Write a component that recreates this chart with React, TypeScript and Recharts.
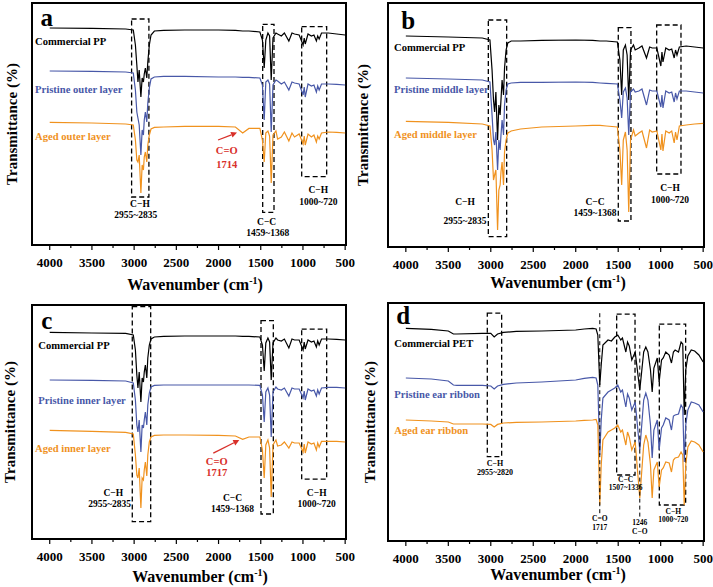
import React from "react";
import { LineChart, Line, XAxis, YAxis, ReferenceArea, ReferenceLine, ReferenceDot } from "recharts";

const SERIF = '"Liberation Serif", "Times New Roman", serif';
const INK = "#000000";
const BLUE = "#4858a8";
const ORANGE = "#f0921e";
const RED = "#d8302a";

const X_DOMAIN: [number, number] = [490, 4210];
const X_TICKS = [4000, 3750, 3500, 3250, 3000, 2750, 2500, 2250, 2000, 1750, 1500, 1250, 1000, 750, 500];

// wavenumber grid for the three PP panels (cm-1)
const PP_WN = [4000, 3500, 3100, 3010, 2985, 2968, 2955, 2940, 2920, 2905, 2890, 2880, 2867, 2850, 2838, 2820, 2800, 2760, 2650, 2400, 2000, 1800, 1714, 1640, 1510, 1480, 1459, 1440, 1415, 1395, 1376, 1355, 1320, 1300, 1256, 1220, 1167, 1130, 1100, 1045, 998, 985, 973, 940, 900, 870, 841, 825, 808, 780, 700, 600, 500];

// panel a - outer layer
const A_COMMERCIAL = [108.5, 108.3, 108, 107.5, 100, 90, 81.5, 87.5, 74, 83.5, 81.5, 85.5, 88.5, 83.5, 91.5, 100, 105, 107, 107.3, 107.5, 107.5, 107.3, 107, 107, 106.5, 102.5, 88.5, 102.5, 106, 104.5, 82.5, 103.5, 106, 105.5, 104.5, 106, 102, 106, 105.5, 105, 100, 103.5, 100.5, 105.5, 104.5, 105, 102, 104.5, 103, 106, 106, 105.5, 105];
const A_PRISTINE = [87, 86.8, 86.5, 86, 77.5, 66.5, 63.5, 60, 45, 57.5, 55, 62.5, 66.5, 61.5, 71, 78.5, 83, 84, 84.3, 84.3, 84, 84, 83.8, 83.8, 83.5, 80, 62.5, 81.5, 82.5, 80.5, 56.5, 80, 82.5, 82, 80.5, 81.5, 77.5, 81.5, 81, 80.5, 75, 79, 74, 80.5, 79.5, 80, 76.5, 79.5, 77.5, 80.5, 80.5, 80.3, 80];
const A_AGED = [61.3, 61, 60.5, 60, 52.5, 42.5, 41.5, 45, 26, 40, 37.5, 44, 46.5, 41.5, 50, 55, 58, 58.8, 59, 59.3, 59.3, 59, 56, 58.3, 58.3, 52.5, 41.5, 56, 57, 54.5, 31, 55, 57, 53, 54, 56.5, 52, 56, 54, 55.5, 50.5, 54.5, 50, 55.5, 54, 55, 51.5, 54.5, 53, 56, 56.5, 56.3, 56];

// panel b - middle layer
const B_COMMERCIAL = [105.5, 105, 104.5, 103.5, 88.5, 73.5, 67.5, 77.5, 53.5, 71, 66, 73.5, 83.5, 76, 89.5, 98.5, 102, 103, 103, 103.3, 103.5, 103.3, 103, 103, 102.5, 93.5, 76, 98.5, 101, 96, 73.5, 98.5, 101, 98.5, 99.5, 100.5, 94.5, 100, 99.5, 99.5, 90.5, 97.5, 92.5, 99.5, 98.5, 99, 94.5, 98.5, 96, 100, 100.5, 100, 99.5];
const B_PRISTINE = [84.5, 84, 83.5, 82.5, 66, 53.5, 51, 57.5, 38.5, 53.5, 48.5, 56, 63.5, 56, 71, 78.5, 81.5, 82, 82.3, 82.3, 82.5, 82.3, 82, 81.8, 81.5, 73.5, 64.5, 77.5, 79.5, 74.5, 56, 77.5, 79, 77.5, 78, 79, 71, 78.5, 78, 78, 70, 76, 69.5, 78, 77, 77.5, 72.5, 77, 74, 78, 78, 77.5, 77];
const B_AGED = [62.8, 62.3, 61.5, 60.5, 48.5, 33.5, 36, 38.5, 8.5, 28.5, 31, 37.5, 42.5, 31, 47.5, 53.5, 57, 58, 59, 60, 60.5, 60.8, 60.8, 60.5, 60, 48.5, 31, 53.5, 57.5, 48.5, 17.5, 53.5, 58.5, 55.5, 57, 58, 49.5, 58.5, 57.5, 58, 48.5, 56.5, 48, 58, 57, 58, 52, 57.5, 53.5, 60.5, 61, 61.5, 61.8];

// panel c - inner layer
const C_COMMERCIAL = [103.3, 103, 102.8, 102, 94.5, 82, 75.5, 83.5, 68.5, 80.5, 78.5, 83.5, 87, 80.5, 90.5, 97, 100, 101, 101.3, 101.5, 101.5, 101.5, 101.3, 101.3, 101, 97, 84, 98, 100.5, 98.5, 79.5, 98, 100.5, 99.5, 99, 100, 95.5, 100, 99.5, 99.5, 94.5, 98.5, 95, 99.5, 98.5, 99, 96, 99, 97, 100, 100, 99.8, 99.5];
const C_PRISTINE = [79.5, 79.3, 79, 78, 69.5, 57, 53.5, 59.5, 43.5, 57, 55.5, 59.5, 63.5, 57, 67, 73, 76, 76.8, 77, 77, 77, 77, 77, 77, 76.8, 72, 58.5, 73.5, 75.5, 72, 51, 73.5, 76, 75, 74.5, 75.5, 71.5, 75.5, 75, 75, 70.5, 74, 69.5, 75, 74, 74.5, 71.5, 74.5, 72.5, 75.5, 75.8, 75.8, 75.5];
const C_AGED = [54.3, 53.8, 53.3, 52.5, 42, 32, 30.5, 35.5, 15.5, 30.5, 29.5, 34.5, 38.5, 31.5, 42, 48.5, 51, 51.8, 52, 52, 51.8, 51.5, 49.8, 51, 51, 44.5, 30.5, 47, 49.5, 45.5, 21, 47, 49.5, 46.5, 47, 48.5, 45.5, 48.5, 48, 48, 43.5, 47.5, 43, 48.5, 47.5, 48, 44.5, 48, 46, 48.8, 48.8, 48.8, 48.5];

// panel d - PET ear ribbon
const PET_WN = [4000, 3700, 3500, 3440, 3400, 3100, 3000, 2960, 2920, 2850, 2700, 2400, 2000, 1900, 1800, 1760, 1740, 1717, 1700, 1680, 1620, 1580, 1540, 1505, 1470, 1450, 1410, 1390, 1370, 1340, 1300, 1246, 1200, 1175, 1150, 1120, 1100, 1080, 1040, 1018, 990, 970, 940, 900, 873, 850, 830, 790, 760, 740, 723, 705, 680, 640, 600, 550, 500];
const D_COMMERCIAL = [106.3, 105.8, 105, 103.5, 103.5, 103.8, 103.8, 102, 103.5, 104.3, 104.8, 105, 105.5, 106, 106.3, 106, 103, 78, 88, 98, 100.5, 100, 102, 103, 100.5, 101.5, 94.5, 99.5, 97.5, 90.5, 94.5, 75.5, 94.5, 97, 94.5, 85.5, 74.5, 86.5, 91.5, 79.5, 90.5, 91.5, 94.5, 93, 89, 94.5, 95.5, 94.5, 99.5, 98.5, 63, 85.5, 92.5, 95.5, 95, 93, 89.5];
const D_PRISTINE = [81.5, 81, 80, 78, 77.8, 77.8, 77.5, 76, 77.5, 78.3, 79, 79.5, 80.5, 81.3, 81.8, 81.5, 78, 43, 60.5, 71.5, 74.5, 75.5, 76.5, 78, 74.5, 75.5, 67, 73.5, 71.5, 65.5, 69.5, 45.5, 70.5, 74, 70.5, 58, 41.5, 55.5, 60.5, 45.5, 56.5, 58, 61.5, 60.5, 55.5, 62.5, 63, 63.5, 68, 66.5, 39.5, 58, 65.5, 69.5, 69, 68, 64.5];
const D_AGED = [60.5, 60, 59.5, 58.5, 58.5, 58.5, 58.3, 57, 58.3, 59, 59.3, 59.5, 60, 60.3, 60.5, 60.8, 58, 18, 38, 50.5, 54.5, 55.5, 56.5, 58, 54.5, 55.5, 48, 54.5, 52, 45.5, 49.5, 21.5, 48, 53, 49.5, 38, 21.5, 35.5, 39.5, 27, 35.5, 36.5, 39.5, 39, 34.5, 40.5, 41.5, 42, 44.5, 43, 18, 38, 47, 50, 49.5, 48, 44.5];

type Series = { key: string; color: string; values: number[] };

function XTick(props: any) {
  const { x, y, payload } = props;
  const major = payload.value % 500 === 0;
  return (
    <g>
      <line x1={x} x2={x} y1={y} y2={y + (major ? 5 : 3)} stroke={INK} strokeWidth={1.2} />
      {major && (
        <text x={x} y={y + 17} textAnchor="middle" dominantBaseline="central" fontFamily={SERIF} fontWeight={700} fontSize={13} fill={INK}>
          {payload.value}
        </text>
      )}
    </g>
  );
}

const frame = (yMax: number) => (
  <ReferenceArea key="frame" x1={X_DOMAIN[0]} x2={X_DOMAIN[1]} y1={0} y2={yMax} fill="none" stroke={INK} strokeWidth={2} />
);

const box = (key: string, x1: number, x2: number, y1: number, y2: number) => (
  <ReferenceArea key={key} x1={x1} x2={x2} y1={y1} y2={y2} fill="none" stroke={INK} strokeWidth={1.3} strokeDasharray="5 3" />
);

const vline = (key: string, x: number, y1: number, y2: number) => (
  <ReferenceLine key={key} segment={[{ x, y: y1 }, { x, y: y2 }]} stroke={INK} strokeWidth={1} strokeDasharray="4 3" />
);

const note = (key: string, x: number, y: number, text: string, size = 9.5, color = INK, anchor: "start" | "middle" | "end" = "middle") => (
  <ReferenceDot
    key={key}
    x={x}
    y={y}
    r={0}
    shape={(p: any) => (
      <text x={p.cx} y={p.cy} textAnchor={anchor} dominantBaseline="central" fontFamily={SERIF} fontWeight={700} fontSize={size} fill={color}>
        {text}
      </text>
    )}
  />
);

const arrow = (key: string, x1: number, y1: number, x2: number, y2: number) => (
  <ReferenceLine
    key={key}
    segment={[{ x: x1, y: y1 }, { x: x2, y: y2 }]}
    shape={(p: any) => {
      const dx = p.x2 - p.x1;
      const dy = p.y2 - p.y1;
      const len = Math.hypot(dx, dy) || 1;
      const ux = dx / len;
      const uy = dy / len;
      const bx = p.x2 - ux * 6;
      const by = p.y2 - uy * 6;
      return (
        <g>
          <line x1={p.x1} y1={p.y1} x2={bx} y2={by} stroke={RED} strokeWidth={1.3} />
          <polygon points={`${p.x2},${p.y2} ${bx - uy * 3},${by + ux * 3} ${bx + uy * 3},${by - ux * 3}`} fill={RED} />
        </g>
      );
    }}
  />
);

type PanelProps = {
  left: number;
  top: number;
  plotW: number;
  plotH: number;
  yMax: number;
  rightPad: number;
  wn: number[];
  series: Series[];
  notes: React.ReactNode[];
};

function Panel({ left, top, plotW, plotH, yMax, rightPad, wn, series, notes }: PanelProps) {
  const data = wn.map((w, i) => {
    const row: Record<string, number> = { w };
    series.forEach((s) => {
      row[s.key] = s.values[i];
    });
    return row;
  });
  const mTop = 10;
  const yTicks: number[] = [];
  for (let v = 0; v <= yMax; v += 10) yTicks.push(v);
  return (
    <div style={{ position: "absolute", left: left - 32, top: top - mTop }}>
      <LineChart width={plotW + 32 + rightPad} height={mTop + plotH + 30} data={data} margin={{ top: mTop, right: rightPad, bottom: 0, left: 2 }}>
        <XAxis
          dataKey="w"
          type="number"
          domain={X_DOMAIN}
          reversed
          allowDataOverflow
          ticks={X_TICKS}
          interval={0}
          tickSize={0}
          tickMargin={0}
          tickLine={false}
          axisLine={false}
          tick={<XTick />}
          height={30}
        />
        <YAxis type="number" domain={[0, yMax]} allowDataOverflow width={30} ticks={yTicks} tick={false} tickSize={3} tickLine={{ stroke: INK }} axisLine={false} />
        {frame(yMax)}
        {series.map((s) => (
          <Line key={s.key} dataKey={s.key} stroke={s.color} strokeWidth={1.2} dot={false} type="linear" isAnimationActive={false} />
        ))}
        {notes}
      </LineChart>
    </div>
  );
}

const titleStyle: React.CSSProperties = {
  position: "absolute",
  width: 220,
  height: 20,
  lineHeight: "20px",
  textAlign: "center",
  fontFamily: SERIF,
  fontWeight: 700,
  fontSize: 15,
  color: INK,
  whiteSpace: "nowrap",
};

function XTitle({ cx, cy }: { cx: number; cy: number }) {
  return (
    <div style={{ ...titleStyle, fontSize: 16, left: cx - 110, top: cy - 10 }}>
      Wavenumber (cm<span style={{ fontSize: 10, verticalAlign: "super", lineHeight: 0 }}>-1</span>)
    </div>
  );
}

function YTitle({ cx, cy }: { cx: number; cy: number }) {
  return <div style={{ ...titleStyle, left: cx - 110, top: cy - 10, transform: "rotate(-90deg)" }}>Transmittance (%)</div>;
}

const LBL = 10.6;

export default function App() {
  const notesA = [
    box("ch", 3030, 2825, 24, 113),
    note("ch1", 2931, 20.3, "C−H"),
    note("ch2", 2981, 15, "2955~2835"),
    box("cc", 1477, 1343, 16.3, 110.3),
    note("cc1", 1430, 11.5, "C−C"),
    note("cc2", 1418, 6, "1459~1368"),
    box("fp", 1015, 719, 34.2, 109.2),
    note("fp1", 818, 27.5, "C−H"),
    note("fp2", 818, 21.7, "1000~720"),
    arrow("co", 2006, 52.5, 1781, 56.2),
    note("co1", 1903, 47.2, "C=O", 10.5, RED),
    note("co2", 1903, 40.5, "1714", 10.5, RED),
    note("tag", 4036, 114, "a", 25),
    note("s1", 4174, 102, "Commercial PP", LBL, INK, "start"),
    note("s2", 4174, 77.8, "Pristine outer layer", LBL, BLUE, "start"),
    note("s3", 4174, 54.5, "Aged outer layer", LBL, ORANGE, "start"),
  ];
  const notesB = [
    box("ch", 3029, 2813, 5.2, 113.5),
    note("ch1", 3304, 22.7, "C−H"),
    note("ch2", 3304, 13.2, "2955~2835"),
    box("cc", 1499, 1350, 13, 109.7),
    note("cc1", 1773, 22.7, "C−C"),
    note("cc2", 1773, 16.9, "1459~1368"),
    box("fp", 1047, 761, 36.5, 111),
    note("fp1", 890, 29.3, "C−H"),
    note("fp2", 890, 23.5, "1000~720"),
    note("tag", 3971, 113.5, "b", 25),
    note("s1", 4139, 99.7, "Commercial PP", LBL, INK, "start"),
    note("s2", 4139, 78.9, "Pristine middle layer", LBL, BLUE, "start"),
    note("s3", 4139, 56.4, "Aged middle layer", LBL, ORANGE, "start"),
  ];
  const notesC = [
    box("ch", 3022, 2804, 8.7, 116.2),
    note("ch1", 3247, 23, "C−H"),
    note("ch2", 3290, 17.5, "2955~2835"),
    arrow("co", 2062, 42.9, 1754, 49.5),
    note("co1", 2022, 39, "C=O", 10.5, RED),
    note("co2", 2022, 33.5, "1717", 10.5, RED),
    box("cc", 1497, 1351, 12.5, 109.2),
    note("cc1", 1835, 20.7, "C−C"),
    note("cc2", 1835, 15.2, "1459~1368"),
    box("fp", 1015, 719, 29.9, 104.9),
    note("fp1", 837, 23.1, "C−H"),
    note("fp2", 837, 17.6, "1000~720"),
    note("tag", 4036, 109.5, "c", 25),
    note("s1", 4135, 97, "Commercial PP", LBL, INK, "start"),
    note("s2", 4135, 69.5, "Pristine inner layer", LBL, BLUE, "start"),
    note("s3", 4174, 45.4, "Aged inner layer", LBL, ORANGE, "start"),
  ];
  const notesD = [
    box("ch", 3041, 2872, 42.2, 113.9),
    note("ch1", 2950, 38.9, "C−H", 8),
    note("ch2", 2950, 34.2, "2955~2820", 8),
    vline("v1717", 1717, 13.9, 113.9),
    note("co1", 1717, 11.2, "C=O", 7.5),
    note("co2", 1717, 7, "1717", 7.5),
    box("cc", 1518, 1302, 33, 113.4),
    note("cc1", 1412, 31, "C−C", 7.5),
    note("cc2", 1412, 26.8, "1507~1336", 7.5),
    vline("v1246", 1246, 12.2, 98),
    note("c1", 1246, 9.3, "1246", 7.5),
    note("c2", 1246, 5, "C−O", 7.5),
    box("fp", 1016, 706, 18, 108.4),
    note("fp1", 852, 15, "C−H", 7.5),
    note("fp2", 852, 10.9, "1000~720", 7.5),
    note("tag", 4030, 113, "d", 25),
    note("s1", 4136, 98.9, "Commercial PET", LBL, INK, "start"),
    note("s2", 4136, 73.5, "Pristine ear ribbon", LBL, BLUE, "start"),
    note("s3", 4136, 55.5, "Aged ear ribbon", LBL, ORANGE, "start"),
  ];

  return (
    <div style={{ position: "absolute", left: 0, top: 0, width: 713, height: 587, background: "#fff", overflow: "hidden" }}>
      <Panel
        left={32}
        top={3}
        plotW={314}
        plotH={242}
        yMax={121}
        rightPad={14}
        wn={PP_WN}
        series={[
          { key: "commercial", color: INK, values: A_COMMERCIAL },
          { key: "pristine", color: BLUE, values: A_PRISTINE },
          { key: "aged", color: ORANGE, values: A_AGED },
        ]}
        notes={notesA}
      />
      <Panel
        left={388}
        top={3}
        plotW={316}
        plotH={244}
        yMax={122}
        rightPad={9}
        wn={PP_WN}
        series={[
          { key: "commercial", color: INK, values: B_COMMERCIAL },
          { key: "pristine", color: BLUE, values: B_PRISTINE },
          { key: "aged", color: ORANGE, values: B_AGED },
        ]}
        notes={notesB}
      />
      <Panel
        left={32}
        top={305}
        plotW={314}
        plotH={234}
        yMax={117}
        rightPad={14}
        wn={PP_WN}
        series={[
          { key: "commercial", color: INK, values: C_COMMERCIAL },
          { key: "pristine", color: BLUE, values: C_PRISTINE },
          { key: "aged", color: ORANGE, values: C_AGED },
        ]}
        notes={notesC}
      />
      <Panel
        left={388}
        top={303}
        plotW={316}
        plotH={238}
        yMax={119}
        rightPad={9}
        wn={PET_WN}
        series={[
          { key: "commercial", color: INK, values: D_COMMERCIAL },
          { key: "pristine", color: BLUE, values: D_PRISTINE },
          { key: "aged", color: ORANGE, values: D_AGED },
        ]}
        notes={notesD}
      />
      <XTitle cx={195} cy={285} />
      <XTitle cx={558} cy={283} />
      <XTitle cx={200} cy={577} />
      <XTitle cx={558} cy={575} />
      <YTitle cx={12} cy={124} />
      <YTitle cx={363} cy={125} />
      <YTitle cx={10} cy={422} />
      <YTitle cx={370} cy={422} />
    </div>
  );
}
